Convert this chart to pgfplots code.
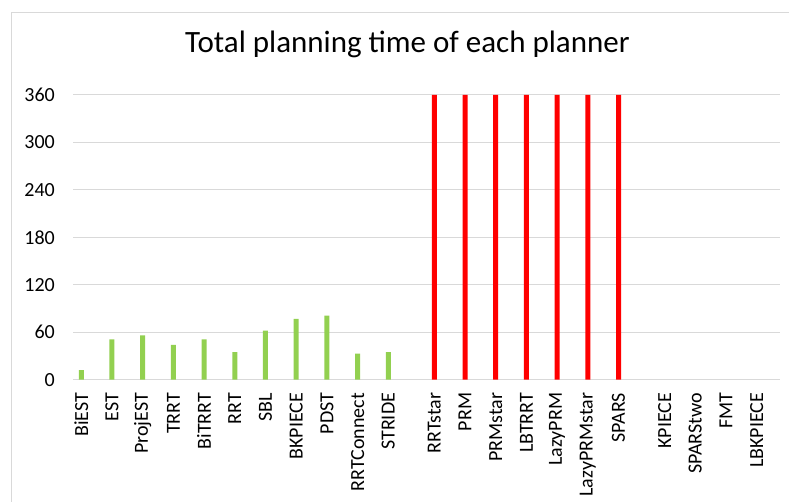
\documentclass[border=0pt]{standalone}
\usepackage{pgfplots}
\pgfplotsset{compat=1.18}
\usepackage{pgfplotstable}
\usepackage{fontspec}
\setmainfont{Carlito}

\definecolor{barGreen}{HTML}{92D050}
\definecolor{barRed}{HTML}{FF0000}
\definecolor{gridGray}{HTML}{D9D9D9}

% planners that finished (position, seconds)
\pgfplotstableread{
x     t
0     12
1     51
2     56
3     44
4     51
5     35
6     62
7     77
8     81
9     33
10    35
}\finished

% planners that hit the time limit
\pgfplotstableread{
x     t
11.5  360
12.5  360
13.5  360
14.5  360
15.5  360
16.5  360
17.5  360
}\timedout

\begin{document}
\begin{tikzpicture}[x=1pt,y=1pt]
\useasboundingbox (0,0) rectangle (789,502);
% chart frame
\draw[gridGray, line width=1pt] (11,-5) -- (11,489) -- (795,489);
\begin{axis}[
  at={(73pt,122.3pt)}, anchor=south west,
  scale only axis, width=707pt, height=284.7pt,
  xmin=-0.27, xmax=22.76, ymin=0, ymax=360,
  ytick={0,60,...,360},
  xtick={0,1,2,3,4,5,6,7,8,9,10,11.5,12.5,13.5,14.5,15.5,16.5,17.5,19,20,21,22},
  xticklabels={BiEST,EST,ProjEST,TRRT,BiTRRT,RRT,SBL,BKPIECE,PDST,RRTConnect,STRIDE,
    RRTstar,PRM,PRMstar,LBTRRT,LazyPRM,LazyPRMstar,SPARS,KPIECE,SPARStwo,FMT,LBKPIECE},
  axis line style={draw=none},
  major tick length=0pt,
  ymajorgrids, grid style={gridGray, line width=1pt},
  /pgf/number format/assume math mode=true,
  yticklabel style={inner sep=0pt, anchor=east, font=\fontsize{20}{20}\selectfont},
  yticklabel shift=18pt,
  xticklabel style={rotate=90, anchor=east, inner sep=0pt, font=\fontsize{20}{20}\selectfont},
  xticklabel shift=13pt,
  clip=false,
]
\addplot[ybar, bar width=5pt, bar shift=0pt, fill=barGreen, draw=none] table[x=x, y=t] {\finished};
\addplot[ybar, bar width=5pt, bar shift=0pt, fill=barRed, draw=none] table[x=x, y=t] {\timedout};
\end{axis}
\node[anchor=base, font=\fontsize{31}{31}\selectfont] at (407.5,449) {Total planning time of each planner};
\end{tikzpicture}
\end{document}
